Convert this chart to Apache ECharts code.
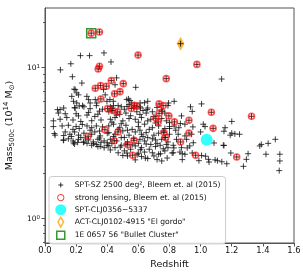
<!DOCTYPE html>
<html><head><meta charset="utf-8">
<script src="https://cdn.jsdelivr.net/npm/echarts@6/dist/echarts.min.js"></script>
<style>html,body{margin:0;padding:0;background:#fff}#c{width:303px;height:275px}</style>
</head><body><div id="c"></div>
<script>
const xTicks = [0, 0.2, 0.4, 0.6, 0.8, 1.0, 1.2, 1.4, 1.6];
const yMajorTicks = [1, 10];
const yMinorTicks = [0.7, 0.8, 0.9, 2, 3, 4, 5, 6, 7, 8, 9, 20];
const legendNames = [
  'SPT-SZ 2500 deg², Bleem et. al (2015)',
  'strong lensing, Bleem et. al (2015)',
  'SPT-CLJ0356\u22125337',
  'ACT-CLJ0102-4915 "El gordo"',
  '1E 0657 56 "Bullet Cluster"'
];
// [redshift, mass500c (1e14 Msun)]
const sptPoints = [
[0.099,9.66],[0.166,10.6],[0.228,12.0],[0.286,12.0],[0.379,12.5],[0.424,10.9],[0.176,8.7],[0.237,7.9],[0.46,8.55],[0.583,7.4],[1.135,8.4],[0.871,14.4],[0.45,7.7],
[0.194,7.15],[0.204,6.8],[0.215,6.6],[0.183,5.98],[0.204,5.83],[0.269,6.45],[0.28,6.14],[0.323,6.14],[0.333,5.83],[0.376,7.15],[0.387,6.6],[0.398,5.98],[0.417,6.14],[0.439,5.98],[0.525,6.14],[0.546,6.05],[0.557,5.83],[0.611,5.83],[0.66,5.98],[0.794,5.83],[0.83,5.98],[1.006,5.75],[0.187,7.2],[0.172,6.45],[0.29,5.83],[0.241,5.6],[0.194,5.4],[0.097,5.27],[0.086,5.0],[0.13,4.95],[0.537,6.2],[0.527,5.53],[0.613,5.4],[0.656,5.27],[0.639,5.85],[0.753,5.13],[0.935,5.5],[0.946,5.13],[1.2,4.4],[0.87,4.26],[0.83,4.1],[1.0,3.75],[0.8,3.95],
[0.08,5.27],[0.12,5.4],[0.19,5.43],[0.22,5.57],[0.25,5.5],[0.29,5.35],[0.33,5.6],[0.37,5.3],[0.215,4.79],[0.27,4.85],[0.32,4.75],[0.34,4.91],[0.054,4.44],[0.097,4.55],[0.14,4.67],[0.054,4.07],[0.11,4.11],[0.15,4.15],[0.2,4.07],[0.24,4.2],[0.27,4.11],[0.3,4.0],[0.33,4.11],[0.37,4.05],[0.065,3.57],[0.13,3.75],[0.16,3.62],[0.19,3.75],[0.215,3.57],[0.25,3.68],[0.3,3.62],[0.32,3.75],[0.355,3.53],[0.4,3.68],[0.12,3.32],[0.15,3.38],[0.18,3.27],[0.215,3.35],[0.25,3.22],[0.28,3.32],[0.31,3.22],[0.34,3.35],[0.38,3.27],[0.4,3.18],[0.3,3.06],[0.34,3.0],[0.38,2.95],[0.4,3.06],[0.17,3.5],[0.23,3.45],[0.26,3.42],[0.35,3.42],[0.36,3.2],[0.21,3.2],[0.19,3.12],[0.33,3.1],[0.27,3.15],[0.12,3.55],[0.18,3.9],[0.22,3.95],[0.29,3.85],[0.35,3.8],[0.23,4.4],[0.3,4.45],[0.36,4.5],[0.18,4.5],[0.2,4.95],[0.28,5.05],[0.35,5.15],
[0.42,5.5],[0.44,5.6],[0.49,5.5],[0.54,5.7],[0.61,5.5],[0.66,5.4],[0.79,5.6],[0.41,5.1],[0.43,5.2],[0.48,4.9],[0.52,5.0],[0.61,4.9],[0.65,5.0],[0.69,5.1],[0.75,5.25],[0.42,4.55],[0.45,4.67],[0.5,4.44],[0.54,4.6],[0.58,4.55],[0.62,4.67],[0.66,4.44],[0.7,4.75],[0.78,4.44],[0.8,4.32],[0.41,4.11],[0.44,4.22],[0.48,4.0],[0.52,4.15],[0.56,3.9],[0.6,4.07],[0.64,4.22],[0.69,4.0],[0.73,4.11],[0.77,3.95],[0.8,4.07],[0.41,3.71],[0.45,3.62],[0.5,3.81],[0.54,3.57],[0.58,3.75],[0.62,3.62],[0.65,3.71],[0.7,3.57],[0.73,3.68],[0.8,3.62],[0.42,3.35],[0.46,3.27],[0.49,3.44],[0.53,3.22],[0.61,3.35],[0.64,3.27],[0.66,3.44],[0.71,3.32],[0.75,3.35],[0.79,3.22],[0.41,3.03],[0.45,2.95],[0.49,3.06],[0.58,3.03],[0.62,2.95],[0.68,3.1],[0.71,3.0],[0.74,3.06],[0.79,2.95],[0.47,2.73],[0.51,2.81],[0.6,2.71],[0.64,2.76],[0.69,2.73],[0.73,2.67],[0.77,2.81],[0.5,2.62],[0.58,2.45],[0.66,2.5],[0.75,2.41],
[0.43,5.35],[0.47,5.6],[0.51,5.3],[0.57,5.45],[0.59,5.1],[0.63,5.2],[0.72,5.45],[0.77,5.0],[0.46,4.85],[0.55,4.8],[0.6,4.35],[0.68,4.55],[0.71,4.3],[0.75,4.6],[0.43,4.35],[0.49,4.25],[0.47,3.9],[0.53,3.85],[0.61,3.85],[0.67,3.9],[0.76,3.8],[0.44,3.5],[0.51,3.45],[0.57,3.4],[0.63,3.5],[0.69,3.38],[0.77,3.45],[0.43,3.15],[0.52,3.12],[0.56,3.08],[0.6,3.15],[0.65,3.12],[0.72,3.15],[0.78,3.1],[0.42,2.85],[0.55,2.88],[0.67,2.88],[0.76,2.9],[0.53,2.6],[0.62,2.58],[0.7,2.6],
[0.877,4.79],[0.899,4.22],[1.017,4.22],[1.028,4.07],[1.157,4.0],[1.2,3.68],[1.19,3.57],[1.146,3.06],[0.856,3.62],[0.899,3.53],[0.942,3.62],[0.845,3.35],[0.91,3.35],[0.953,3.18],[0.824,2.73],[0.867,2.76],[0.899,2.67],[1.006,2.62],[1.05,2.47],[1.093,2.45],[1.136,2.38],[0.824,3.06],[0.877,2.95],[0.93,3.03],[0.86,4.0],[0.95,4.05],[0.84,3.85],
[1.22,3.64],[1.25,3.62],[1.15,3.79],[1.38,3.03],[1.39,3.1],[1.434,3.15],[1.48,3.35],[1.42,2.67],[1.305,2.69],[1.509,2.67],[1.509,2.41],[1.294,2.47],[1.275,2.22],[1.505,2.08],[1.15,3.05],[1.194,2.72],[1.108,2.42],[1.168,2.31],[1.054,2.37],[1.032,2.59],[0.989,2.42],[1.086,3.17],
[0.118,3.3],[0.183,3.17],[0.247,3.2],[0.312,3.14],[0.355,3.01],[0.484,2.98],[0.613,2.86],[0.645,2.52],[0.742,2.69],[0.817,2.72],[0.882,2.69],[0.946,2.72],[0.914,2.94],[0.527,2.72],[0.592,2.65],[0.828,2.94],[0.785,2.52],[0.72,2.46],[0.882,2.46],[0.06,3.66]
];
const lensingPoints = [
[0.297,16.9],[0.35,17.2],[0.598,12.1],[0.976,10.5],[0.35,10.2],[0.342,9.8],[0.779,8.45],[0.426,8.2],[0.503,7.83],[0.357,7.6],[0.394,7.53],[0.323,7.3],[0.447,6.7],[0.482,6.93],[0.359,6.2],[0.733,5.75],[0.759,5.6],[0.402,5.35],[0.437,5.2],[0.467,5.09],[0.555,5.36],[0.575,5.62],[0.59,5.55],[1.069,5.06],[1.327,4.76],[0.796,4.79],[0.712,4.62],[0.925,4.48],[0.832,4.37],[0.727,4.37],[0.733,4.98],[1.08,3.96],[0.277,3.51],[0.385,3.88],[0.469,3.75],[0.445,3.28],[0.572,3.3],[0.531,3.08],[0.765,3.72],[0.775,3.45],[0.925,3.69],[0.871,3.22],[0.563,2.63],[0.968,2.63],[1.232,2.56]
];
const sptClj0356 = [[1.039, 3.33]];
const elGordo = [[0.871, 14.4]];
const bulletCluster = [[0.297, 16.9]];

const FONT = 'DejaVu Sans';
const AX = '#555';
const crossPath = 'path://M0,5H10M5,0V10';
const chart = echarts.init(document.getElementById('c'), null, {renderer: 'canvas'});
chart.setOption({
  animation: false,
  grid: {left: 45, top: 8, width: 249, height: 235, containLabel: false, outerBoundsMode: 'none', show: true, borderColor: AX, borderWidth: 1, backgroundColor: 'transparent'},
  xAxis: {
    type: 'value', min: xTicks[0], max: xTicks[xTicks.length - 1], interval: 0.2,
    axisLine: {show: true, onZero: false, lineStyle: {color: AX}},
    axisTick: {show: true, length: 3.5, lineStyle: {color: AX}},
    splitLine: {show: false},
    axisLabel: {fontSize: 8.4, fontFamily: FONT, color: '#111', margin: 4, formatter: v => v.toFixed(1)},
    name: 'Redshift', nameLocation: 'middle', nameGap: 15,
    nameTextStyle: {fontSize: 9.5, fontFamily: FONT, color: '#111'}
  },
  yAxis: [{
    type: 'log', logBase: 10, min: 0.69, max: 24.8,
    axisLine: {show: true, onZero: false, lineStyle: {color: AX}},
    axisTick: {show: true, length: 3.5, customValues: yMajorTicks, lineStyle: {color: AX}},
    splitLine: {show: false},
    axisLabel: {
      customValues: yMajorTicks, fontSize: 7.5, fontFamily: FONT, color: '#111', margin: 5,
      formatter: v => '10{sup|' + Math.round(Math.log10(v)) + '}',
      rich: {sup: {fontSize: 5.5, fontFamily: FONT, color: '#111', verticalAlign: 'top', lineHeight: 6}}
    },
    name: 'Mass{sub|500c} (10{sup|14} M{sub|\u2299})', nameLocation: 'middle', nameGap: 20, nameRotate: 90,
    nameTextStyle: {
      fontSize: 9.5, fontFamily: FONT, color: '#111', lineHeight: 13,
      rich: {
        sub: {fontSize: 7, fontFamily: FONT, color: '#111', verticalAlign: 'bottom', lineHeight: 7},
        sup: {fontSize: 7, fontFamily: FONT, color: '#111', verticalAlign: 'top', lineHeight: 7}
      }
    }
  }, {
    type: 'log', logBase: 10, min: 0.69, max: 24.8, position: 'left',
    axisLine: {show: false},
    axisTick: {show: true, length: 2, customValues: yMinorTicks, lineStyle: {color: AX}},
    axisLabel: {show: false},
    splitLine: {show: false}
  }],
  legend: {
    orient: 'vertical', left: 49, top: 176.5, padding: [2.5, 5, 2.5, 5],
    itemGap: 0.6, itemWidth: 12, itemHeight: 11, selectedMode: false,
    borderColor: '#cccccc', borderWidth: 1, borderRadius: 3, backgroundColor: 'rgba(255,255,255,0.85)',
    textStyle: {fontSize: 7.6, fontFamily: FONT, color: '#111', padding: [0, 0, 0, 3]},
    data: [
      {name: legendNames[0], icon: 'path://M0,0M12,11M3.5,5.5H8.5M6,3V8', itemStyle: {color: 'rgba(0,0,0,0)', borderColor: '#000', borderWidth: 1}},
      {name: legendNames[1], icon: 'path://M0,0M12,11M9.2,5.5A3.2,3.2,0,1,1,2.8,5.5A3.2,3.2,0,1,1,9.2,5.5Z', itemStyle: {color: 'rgba(0,0,0,0)', borderColor: '#ff0000', borderWidth: 1}},
      {name: legendNames[2], icon: 'circle', itemStyle: {color: '#00ffff', borderWidth: 0}},
      {name: legendNames[3], icon: 'path://M0,0M12,11M6,0.6L8.8,5.5L6,10.4L3.2,5.5Z', itemStyle: {color: 'rgba(0,0,0,0)', borderColor: '#ffa500', borderWidth: 1.5}},
      {name: legendNames[4], icon: 'path://M0,0M12,11M2,1.5H10V9.5H2Z', itemStyle: {color: 'rgba(0,0,0,0)', borderColor: '#008000', borderWidth: 1.5}}
    ]
  },
  series: [
    {name: legendNames[3], type: 'scatter', data: elGordo, symbol: 'diamond', symbolSize: [7, 13], z: 1, silent: true,
     itemStyle: {color: '#ffa500', borderColor: '#ff9f00', borderWidth: 0.5}},
    {name: legendNames[0], type: 'scatter', data: sptPoints.concat(lensingPoints), symbol: crossPath, symbolSize: 6, z: 2, silent: true,
     itemStyle: {color: 'rgba(0,0,0,0)', borderColor: '#111', borderWidth: 1}},
    {name: legendNames[1], type: 'scatter', data: lensingPoints, symbol: 'circle', symbolSize: 6, z: 3, silent: true,
     itemStyle: {color: 'rgba(255,0,0,0.12)', borderColor: 'rgba(255,0,0,0.8)', borderWidth: 1.6}},
    {name: legendNames[2], type: 'scatter', data: sptClj0356, symbol: 'circle', symbolSize: 12, z: 4, silent: true,
     itemStyle: {color: '#00ffff'}},
    {name: legendNames[4], type: 'scatter', data: bulletCluster, symbol: 'rect', symbolSize: 9, z: 5, silent: true,
     itemStyle: {color: 'rgba(0,0,0,0)', borderColor: '#008000', borderWidth: 1.5}}
  ]
});
</script></body></html>
